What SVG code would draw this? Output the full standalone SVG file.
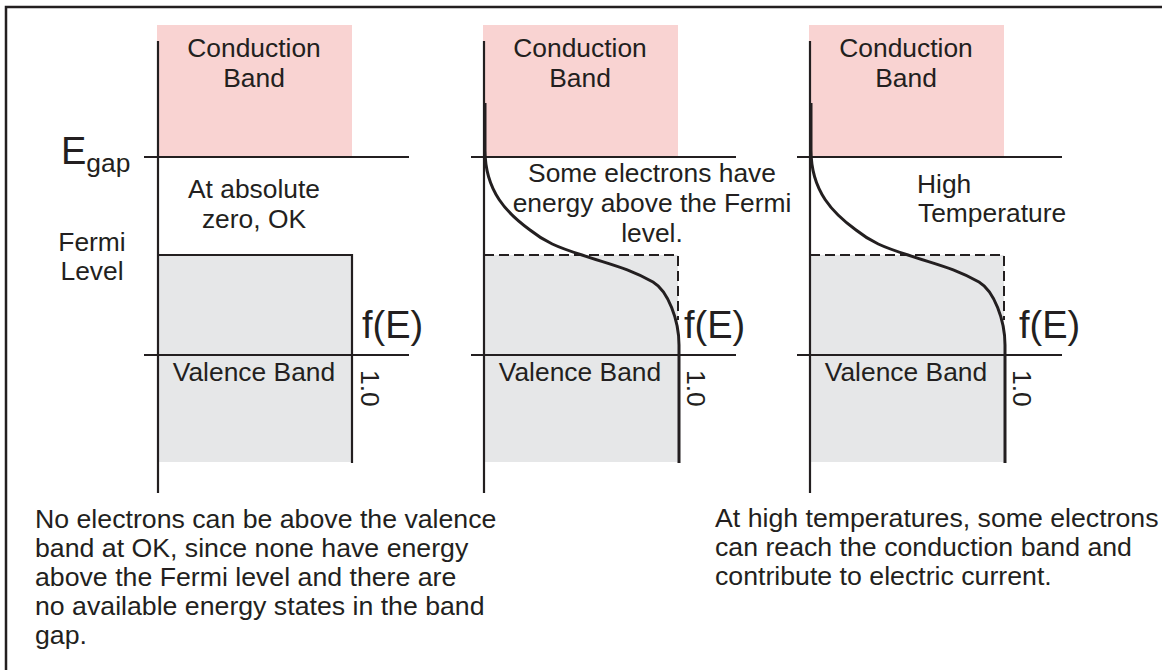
<svg xmlns="http://www.w3.org/2000/svg" xmlns:xlink="http://www.w3.org/1999/xlink" width="1162" height="670" viewBox="0 0 1162 670">
<style>
text{font-family:"Liberation Sans",Arial,sans-serif;fill:#231f20;font-size:26.4px}
.c{text-anchor:middle}
.big{font-size:38px}
.note{font-size:26.7px}
.ax{stroke:#231f20;stroke-width:2.2;fill:none}
.cb{fill:#f9d3d2}
.vb{fill:#e6e7e8}
.fd{stroke:#231f20;stroke-width:3;fill:none}
.dash{stroke:#231f20;stroke-width:2;fill:none;stroke-dasharray:10 5}
</style>
<defs>
<path id="curve" d="M159,103 L159,150 C159,192 182,214 204,230 C219,242 231,247 256,255 C286,265 302,268 327,282 C342,291 353,320 353,345 L353,463"/>
</defs>
<rect width="1162" height="670" fill="#fff"/>
<path d="M6,670 V7 H1162" stroke="#231f20" stroke-width="2.5" fill="none"/>

<g id="panel1">
<rect class="cb" x="157" y="25" width="195" height="132"/>
<rect class="vb" x="158" y="255" width="194" height="207"/>
<path class="ax" d="M158,41 V493 M144,157 H409 M144,355 H409 M158,255 H352 V463"/>
<text class="c" x="254" y="57">Conduction</text>
<text class="c" x="254" y="87">Band</text>
<text class="c" x="254" y="198">At absolute</text>
<text class="c" x="254" y="228">zero, OK</text>
<text class="c" x="254" y="381">Valence Band</text>
<text class="big" x="362" y="338">f(E)</text>
<text transform="translate(361,370) rotate(90)">1.0</text>
</g>

<g id="labels">
<text class="big" x="61" y="164">E<tspan font-size="26.4" dy="8">gap</tspan></text>
<text class="c" x="92" y="251">Fermi</text>
<text class="c" x="92" y="280">Level</text>
</g>

<g id="panel2" transform="translate(326,0)">
<rect class="cb" x="157" y="25" width="195" height="132"/>
<rect class="vb" x="158" y="255" width="194" height="207"/>
<path class="ax" d="M158,41 V493 M145,157 H410 M145,355 H410"/>
<path class="dash" d="M158,255 H352 V320"/>
<use xlink:href="#curve" class="fd"/>
<text class="c" x="254" y="57">Conduction</text>
<text class="c" x="254" y="87">Band</text>
<text class="c" x="254" y="381">Valence Band</text>
<text class="big" x="358" y="338">f(E)</text>
<text transform="translate(361,370) rotate(90)">1.0</text>
</g>
<text class="c" x="652" y="182">Some electrons have</text>
<text class="c" x="652" y="212">energy above the Fermi</text>
<text class="c" x="652" y="242">level.</text>

<g id="panel3" transform="translate(652,0)">
<rect class="cb" x="157" y="25" width="195" height="132"/>
<rect class="vb" x="158" y="255" width="194" height="207"/>
<path class="ax" d="M158,41 V493 M145,157 H410 M145,355 H410"/>
<path class="dash" d="M158,255 H352 V320"/>
<use xlink:href="#curve" class="fd"/>
<text class="c" x="254" y="57">Conduction</text>
<text class="c" x="254" y="87">Band</text>
<text x="265" y="193">High</text>
<text x="266" y="222">Temperature</text>
<text class="c" x="254" y="381">Valence Band</text>
<text class="big" x="367" y="338">f(E)</text>
<text transform="translate(361,370) rotate(90)">1.0</text>
</g>

<g id="notes">
<text class="note" x="35" y="528">No electrons can be above the valence</text>
<text class="note" x="35" y="557">band at OK, since none have energy</text>
<text class="note" x="35" y="586">above the Fermi level and there are</text>
<text class="note" x="35" y="615">no available energy states in the band</text>
<text class="note" x="35" y="644">gap.</text>
<text class="note" x="715" y="527">At high temperatures, some electrons</text>
<text class="note" x="715" y="556">can reach the conduction band and</text>
<text class="note" x="715" y="585">contribute to electric current.</text>
</g>
</svg>
